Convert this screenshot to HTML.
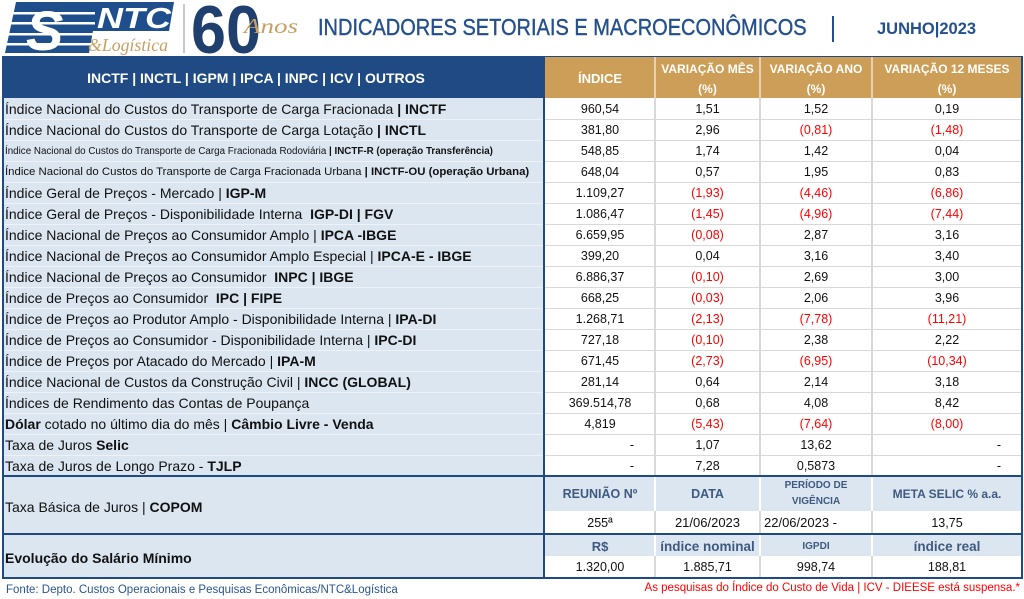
<!DOCTYPE html>
<html><head><meta charset="utf-8">
<style>
*{margin:0;padding:0;box-sizing:border-box}
html,body{width:1024px;height:599px;overflow:hidden;background:#fff;font-family:"Liberation Sans",Arial,sans-serif}
.a{position:absolute}
.l{position:absolute;left:5px;height:21px;line-height:21px;font-size:14px;color:#111;white-space:nowrap}
.n{position:absolute;height:21px;line-height:21px;font-size:12.5px;text-align:center;color:#111;white-space:nowrap}
.c1{left:545px;width:110px}
.c2{left:655px;width:105px}
.c3{left:760px;width:112px}
.c4{left:872px;width:150px}
.r{color:#f00}
.rd{text-align:right;padding-right:21px}
.gh{position:absolute;color:#fff;font-weight:bold;font-size:12px;text-align:center;white-space:nowrap}
.bh{position:absolute;color:#3f5a80;font-weight:bold;text-align:center;white-space:nowrap}
.hl{position:absolute;height:1px;background:#d9d9d9}
.hll{position:absolute;left:4px;width:539px;height:1px;background:#eef2f7}
.vl{position:absolute;width:2px}
.db{position:absolute;background:#1f4a84}
</style></head><body>

<!-- Logo -->
<svg class="a" style="left:0;top:0" width="305" height="56" viewBox="0 0 305 56">
  <polygon points="16,2 174,2 169,31 93,31 89,53 5,53" fill="#1f4e8c"/>
  <g fill="#fff">
    <rect x="3" y="12" width="92" height="2.5"/>
    <rect x="3" y="22" width="92" height="2.5"/>
    <rect x="3" y="33" width="90" height="2.5"/>
    <rect x="3" y="43" width="88" height="2.5"/>
  </g>
  <text x="26" y="50" font-family="Liberation Sans" font-weight="bold" font-style="italic" font-size="56" fill="#fff">S</text>
  <text x="97" y="28" font-family="Liberation Sans" font-weight="bold" font-style="italic" font-size="29" fill="#fff" textLength="74" lengthAdjust="spacingAndGlyphs">NTC</text>
  <text x="88" y="51" font-family="Liberation Serif" font-style="italic" font-size="18" fill="#c9a063" textLength="80" lengthAdjust="spacingAndGlyphs">&amp;Logística</text>
  <rect x="183" y="4" width="2" height="49" fill="#c8c8c8"/>
  <text x="191" y="53" font-family="Liberation Sans" font-weight="bold" font-size="68" fill="#1f3f6e" textLength="70" lengthAdjust="spacingAndGlyphs">60</text>
  <text x="244" y="33" font-family="Liberation Serif" font-style="italic" font-size="21" fill="#c9a063" textLength="54" lengthAdjust="spacingAndGlyphs">Anos</text>
</svg>

<!-- Title -->
<div class="a" style="left:318px;top:15px;font-size:20px;line-height:26px;color:#25508f;white-space:nowrap;transform:scaleY(1.15);transform-origin:0 50%;-webkit-text-stroke:0.35px #25508f">INDICADORES SETORIAIS E MACROECONÔMICOS</div>
<div class="a" style="left:832px;top:16px;width:2px;height:26px;background:#25508f"></div>
<div class="a" style="left:877px;top:18px;font-size:16.5px;line-height:22px;font-weight:bold;color:#25508f;white-space:nowrap">JUNHO|2023</div>

<!-- Backgrounds -->
<div class="a" style="left:3px;top:57px;width:542px;height:41px;background:#1f4a84"></div>
<div class="a" style="left:545px;top:57px;width:477px;height:41px;background:#cc9e57"></div>
<div class="a" style="left:3px;top:98px;width:541px;height:480px;background:#dce6f1"></div>
<div class="a" style="left:545px;top:98px;width:477px;height:378px;background:#fff"></div>
<div class="a" style="left:545px;top:476px;width:477px;height:35px;background:#dce6f1"></div>
<div class="a" style="left:545px;top:534px;width:477px;height:22px;background:#dce6f1"></div>

<!-- header separators -->
<div class="vl" style="left:654px;top:57px;height:41px;background:#e4d2b2"></div>
<div class="vl" style="left:759px;top:57px;height:41px;background:#e4d2b2"></div>
<div class="vl" style="left:871px;top:57px;height:41px;background:#e4d2b2"></div>

<!-- data verticals -->
<div class="vl" style="left:654px;top:98px;height:378px;background:#d9d9d9"></div>
<div class="vl" style="left:759px;top:98px;height:378px;background:#d9d9d9"></div>
<div class="vl" style="left:871px;top:98px;height:378px;background:#d9d9d9"></div>
<div class="vl" style="left:654px;top:476px;height:35px;background:#fff"></div>
<div class="vl" style="left:759px;top:476px;height:35px;background:#fff"></div>
<div class="vl" style="left:871px;top:476px;height:35px;background:#fff"></div>
<div class="vl" style="left:654px;top:511px;height:23px;background:#d9d9d9"></div>
<div class="vl" style="left:759px;top:511px;height:23px;background:#d9d9d9"></div>
<div class="vl" style="left:871px;top:511px;height:23px;background:#d9d9d9"></div>
<div class="vl" style="left:654px;top:534px;height:22px;background:#fff"></div>
<div class="vl" style="left:759px;top:534px;height:22px;background:#fff"></div>
<div class="vl" style="left:871px;top:534px;height:22px;background:#fff"></div>
<div class="vl" style="left:654px;top:556px;height:22px;background:#d9d9d9"></div>
<div class="vl" style="left:759px;top:556px;height:22px;background:#d9d9d9"></div>
<div class="vl" style="left:871px;top:556px;height:22px;background:#d9d9d9"></div>

<!-- row separators -->
<div class="hll" style="top:119px"></div><div class="hl" style="left:545px;width:477px;top:119px"></div>
<div class="hll" style="top:140px"></div><div class="hl" style="left:545px;width:477px;top:140px"></div>
<div class="hll" style="top:161px"></div><div class="hl" style="left:545px;width:477px;top:161px"></div>
<div class="hll" style="top:182px"></div><div class="hl" style="left:545px;width:477px;top:182px"></div>
<div class="hll" style="top:203px"></div><div class="hl" style="left:545px;width:477px;top:203px"></div>
<div class="hll" style="top:224px"></div><div class="hl" style="left:545px;width:477px;top:224px"></div>
<div class="hll" style="top:245px"></div><div class="hl" style="left:545px;width:477px;top:245px"></div>
<div class="hll" style="top:266px"></div><div class="hl" style="left:545px;width:477px;top:266px"></div>
<div class="hll" style="top:287px"></div><div class="hl" style="left:545px;width:477px;top:287px"></div>
<div class="hll" style="top:308px"></div><div class="hl" style="left:545px;width:477px;top:308px"></div>
<div class="hll" style="top:329px"></div><div class="hl" style="left:545px;width:477px;top:329px"></div>
<div class="hll" style="top:350px"></div><div class="hl" style="left:545px;width:477px;top:350px"></div>
<div class="hll" style="top:371px"></div><div class="hl" style="left:545px;width:477px;top:371px"></div>
<div class="hll" style="top:392px"></div><div class="hl" style="left:545px;width:477px;top:392px"></div>
<div class="hll" style="top:413px"></div><div class="hl" style="left:545px;width:477px;top:413px"></div>
<div class="hll" style="top:434px"></div><div class="hl" style="left:545px;width:477px;top:434px"></div>
<div class="hll" style="top:455px"></div><div class="hl" style="left:545px;width:477px;top:455px"></div>

<!-- dark borders -->
<div class="db" style="left:2px;top:56px;width:1021px;height:1px"></div>
<div class="db" style="left:2px;top:56px;width:2px;height:523px"></div>
<div class="db" style="left:1021px;top:56px;width:2px;height:523px"></div>
<div class="db" style="left:543px;top:56px;width:2px;height:523px"></div>
<div class="db" style="left:2px;top:475px;width:1021px;height:2px"></div>
<div class="db" style="left:2px;top:533px;width:1021px;height:2px"></div>
<div class="db" style="left:2px;top:577px;width:1021px;height:2px"></div>

<!-- Headers -->
<div class="a" style="left:0;top:57px;width:512px;height:41px;line-height:43px;text-align:center;color:#fff;font-weight:bold;font-size:14px;white-space:nowrap">INCTF | INCTL | IGPM | IPCA | INPC | ICV | OUTROS</div>
<div class="gh c1" style="top:57px;height:41px;line-height:43px;font-size:13px">ÍNDICE</div>
<div class="gh c2" style="top:59px;line-height:20px">VARIAÇÃO MÊS<br>(%)</div>
<div class="gh c3" style="top:59px;line-height:20px">VARIAÇÃO ANO<br>(%)</div>
<div class="gh c4" style="top:59px;line-height:20px">VARIAÇÃO 12 MESES<br>(%)</div>

<!-- Rows -->
<div class="l" style="top:99px">Índice Nacional do Custos do Transporte de Carga Fracionada <b>| INCTF</b></div>
<div class="n c1" style="top:99px">960,54</div><div class="n c2" style="top:99px">1,51</div><div class="n c3" style="top:99px">1,52</div><div class="n c4" style="top:99px">0,19</div>

<div class="l" style="top:120px">Índice Nacional do Custos do Transporte de Carga Lotação <b>| INCTL</b></div>
<div class="n c1" style="top:120px">381,80</div><div class="n c2" style="top:120px">2,96</div><div class="n c3 r" style="top:120px">(0,81)</div><div class="n c4 r" style="top:120px">(1,48)</div>

<div class="l" style="top:141px;font-size:9.8px">Índice Nacional do Custos do Transporte de Carga Fracionada Rodoviária <b>| INCTF-R (operação Transferência)</b></div>
<div class="n c1" style="top:141px">548,85</div><div class="n c2" style="top:141px">1,74</div><div class="n c3" style="top:141px">1,42</div><div class="n c4" style="top:141px">0,04</div>

<div class="l" style="top:162px;font-size:11.4px">Índice Nacional do Custos do Transporte de Carga Fracionada Urbana <b>| INCTF-OU (operação Urbana)</b></div>
<div class="n c1" style="top:162px">648,04</div><div class="n c2" style="top:162px">0,57</div><div class="n c3" style="top:162px">1,95</div><div class="n c4" style="top:162px">0,83</div>

<div class="l" style="top:183px">Índice Geral de Preços - Mercado | <b>IGP-M</b></div>
<div class="n c1" style="top:183px">1.109,27</div><div class="n c2 r" style="top:183px">(1,93)</div><div class="n c3 r" style="top:183px">(4,46)</div><div class="n c4 r" style="top:183px">(6,86)</div>

<div class="l" style="top:204px">Índice Geral de Preços - Disponibilidade Interna&nbsp; <b>IGP-DI | FGV</b></div>
<div class="n c1" style="top:204px">1.086,47</div><div class="n c2 r" style="top:204px">(1,45)</div><div class="n c3 r" style="top:204px">(4,96)</div><div class="n c4 r" style="top:204px">(7,44)</div>

<div class="l" style="top:225px">Índice Nacional de Preços ao Consumidor Amplo | <b>IPCA -IBGE</b></div>
<div class="n c1" style="top:225px">6.659,95</div><div class="n c2 r" style="top:225px">(0,08)</div><div class="n c3" style="top:225px">2,87</div><div class="n c4" style="top:225px">3,16</div>

<div class="l" style="top:246px">Índice Nacional de Preços ao Consumidor Amplo Especial | <b>IPCA-E - IBGE</b></div>
<div class="n c1" style="top:246px">399,20</div><div class="n c2" style="top:246px">0,04</div><div class="n c3" style="top:246px">3,16</div><div class="n c4" style="top:246px">3,40</div>

<div class="l" style="top:267px">Índice Nacional de Preços ao Consumidor&nbsp; <b>INPC | IBGE</b></div>
<div class="n c1" style="top:267px">6.886,37</div><div class="n c2 r" style="top:267px">(0,10)</div><div class="n c3" style="top:267px">2,69</div><div class="n c4" style="top:267px">3,00</div>

<div class="l" style="top:288px">Índice de Preços ao Consumidor&nbsp; <b>IPC | FIPE</b></div>
<div class="n c1" style="top:288px">668,25</div><div class="n c2 r" style="top:288px">(0,03)</div><div class="n c3" style="top:288px">2,06</div><div class="n c4" style="top:288px">3,96</div>

<div class="l" style="top:309px">Índice de Preços ao Produtor Amplo - Disponibilidade Interna | <b>IPA-DI</b></div>
<div class="n c1" style="top:309px">1.268,71</div><div class="n c2 r" style="top:309px">(2,13)</div><div class="n c3 r" style="top:309px">(7,78)</div><div class="n c4 r" style="top:309px">(11,21)</div>

<div class="l" style="top:330px">Índice de Preços ao Consumidor - Disponibilidade Interna | <b>IPC-DI</b></div>
<div class="n c1" style="top:330px">727,18</div><div class="n c2 r" style="top:330px">(0,10)</div><div class="n c3" style="top:330px">2,38</div><div class="n c4" style="top:330px">2,22</div>

<div class="l" style="top:351px">Índice de Preços por Atacado do Mercado | <b>IPA-M</b></div>
<div class="n c1" style="top:351px">671,45</div><div class="n c2 r" style="top:351px">(2,73)</div><div class="n c3 r" style="top:351px">(6,95)</div><div class="n c4 r" style="top:351px">(10,34)</div>

<div class="l" style="top:372px">Índice Nacional de Custos da Construção Civil | <b>INCC (GLOBAL)</b></div>
<div class="n c1" style="top:372px">281,14</div><div class="n c2" style="top:372px">0,64</div><div class="n c3" style="top:372px">2,14</div><div class="n c4" style="top:372px">3,18</div>

<div class="l" style="top:393px">Índices de Rendimento das Contas de Poupança</div>
<div class="n c1" style="top:393px">369.514,78</div><div class="n c2" style="top:393px">0,68</div><div class="n c3" style="top:393px">4,08</div><div class="n c4" style="top:393px">8,42</div>

<div class="l" style="top:414px"><b>Dólar</b> cotado no último dia do mês | <b>Câmbio Livre - Venda</b></div>
<div class="n c1" style="top:414px">4,819</div><div class="n c2 r" style="top:414px">(5,43)</div><div class="n c3 r" style="top:414px">(7,64)</div><div class="n c4 r" style="top:414px">(8,00)</div>

<div class="l" style="top:435px">Taxa de Juros <b>Selic</b></div>
<div class="n c1 rd" style="top:435px">-</div><div class="n c2" style="top:435px">1,07</div><div class="n c3" style="top:435px">13,62</div><div class="n c4 rd" style="top:435px">-</div>

<div class="l" style="top:456px">Taxa de Juros de Longo Prazo - <b>TJLP</b></div>
<div class="n c1 rd" style="top:456px">-</div><div class="n c2" style="top:456px">7,28</div><div class="n c3" style="top:456px">0,5873</div><div class="n c4 rd" style="top:456px">-</div>

<!-- COPOM -->
<div class="l" style="top:477px;height:58px;line-height:60px">Taxa Básica de Juros | <b>COPOM</b></div>
<div class="bh c1" style="top:477px;height:34px;line-height:34px;font-size:12.5px">REUNIÃO Nº</div>
<div class="bh c2" style="top:477px;height:34px;line-height:34px;font-size:12.5px">DATA</div>
<div class="bh c3" style="top:478px;line-height:16px;font-size:10px">PERÍODO DE<br>VIGÊNCIA</div>
<div class="bh c4" style="top:477px;height:34px;line-height:34px;font-size:12px">META SELIC % a.a.</div>
<div class="n c1" style="top:512px;line-height:22px">255ª</div>
<div class="n c2" style="top:512px;line-height:22px;font-size:13px">21/06/2023</div>
<div class="n c3" style="top:512px;line-height:22px;font-size:13px;text-align:left;padding-left:4px">22/06/2023 -</div>
<div class="n c4" style="top:512px;line-height:22px">13,75</div>

<!-- Salario -->
<div class="l" style="top:535px;height:44px;line-height:46px;font-weight:bold">Evolução do Salário Mínimo</div>
<div class="bh c1" style="top:535px;height:22px;line-height:24px;font-size:13px">R$</div>
<div class="bh c2" style="top:535px;height:22px;line-height:24px;font-size:13.5px">índice nominal</div>
<div class="bh c3" style="top:535px;height:22px;line-height:24px;font-size:10px">IGPDI</div>
<div class="bh c4" style="top:535px;height:22px;line-height:24px;font-size:13.5px">índice real</div>
<div class="n c1" style="top:557px">1.320,00</div>
<div class="n c2" style="top:557px">1.885,71</div>
<div class="n c3" style="top:557px">998,74</div>
<div class="n c4" style="top:557px">188,81</div>

<!-- Footer -->
<div class="a" style="left:6px;top:582px;font-size:11.5px;line-height:16px;color:#2a5592;white-space:nowrap">Fonte: Depto. Custos Operacionais e Pesquisas Econômicas/NTC&amp;Logística</div>
<div class="a" style="right:4px;top:580px;font-size:11.5px;line-height:16px;color:#f00;white-space:nowrap;text-align:right">As pesquisas do Índice do Custo de Vida | ICV - DIEESE está suspensa.*</div>

</body></html>
